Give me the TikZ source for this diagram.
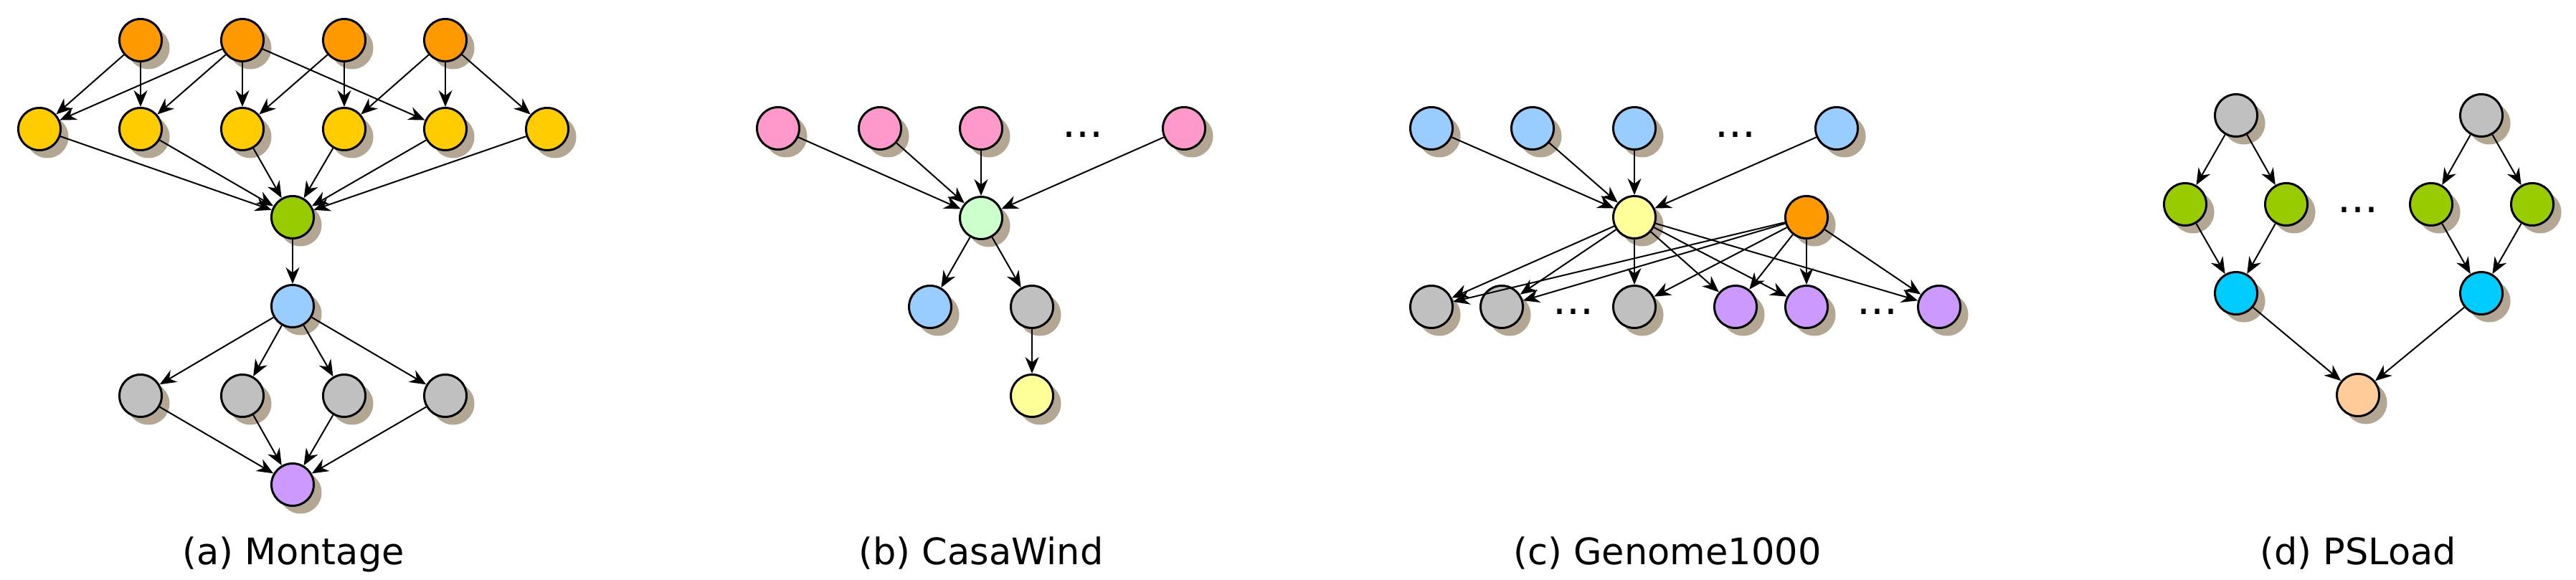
\documentclass[tikz,border=0pt]{standalone}
\usepackage{fontspec}
\setmainfont{DejaVu Sans}
\usepackage{tikz}
\usetikzlibrary{arrows.meta,shadows}
\definecolor{orange}{RGB}{255,153,0}
\definecolor{gold}{RGB}{255,204,0}
\definecolor{lime}{RGB}{153,204,0}
\definecolor{sky}{RGB}{153,204,255}
\definecolor{silver}{RGB}{192,192,192}
\definecolor{lilac}{RGB}{204,153,255}
\definecolor{pink}{RGB}{255,153,204}
\definecolor{mint}{RGB}{204,255,204}
\definecolor{lemon}{RGB}{255,255,153}
\definecolor{cyan}{RGB}{0,204,255}
\definecolor{peach}{RGB}{255,204,153}
\definecolor{shade}{RGB}{179,167,148}

\begin{document}
\begin{tikzpicture}[job/.style = {
                        circle, draw=black, line width=0.85pt,
                        minimum size=5.9mm, inner sep=0pt,
                        drop shadow={shadow xshift=1.1mm, shadow yshift=-1.1mm,
                                     fill=shade, opacity=1}
                      },
                      dep/.style = {
                        ->, line width=0.57pt
                      },
                      more/.style = {
                        inner sep=0pt,
                        font=\fontsize{17}{17}\selectfont
                      },
                      caption/.style = {
                        anchor=base,
                        font=\fontsize{14.5}{17}\selectfont
                      },
                      >={Stealth[length=2.3mm, width=1.9mm]}]
    \useasboundingbox (0,0) rectangle (35.92,-8.09);

    % (a) Montage
    \node(proj1)[job, fill=orange] at (1.96,-0.56) {};
    \node(proj2)[job, fill=orange] at (3.38,-0.56) {};
    \node(proj3)[job, fill=orange] at (4.80,-0.56) {};
    \node(proj4)[job, fill=orange] at (6.21,-0.56) {};
    \node(diff1)[job, fill=gold] at (0.55,-1.80) {};
    \node(diff2)[job, fill=gold] at (1.96,-1.80) {};
    \node(diff3)[job, fill=gold] at (3.38,-1.80) {};
    \node(diff4)[job, fill=gold] at (4.80,-1.80) {};
    \node(diff5)[job, fill=gold] at (6.21,-1.80) {};
    \node(diff6)[job, fill=gold] at (7.63,-1.80) {};
    \node(concat)[job, fill=lime] at (4.08,-3.03) {};
    \node(bgmodel)[job, fill=sky] at (4.08,-4.27) {};
    \node(bg1)[job, fill=silver] at (1.96,-5.52) {};
    \node(bg2)[job, fill=silver] at (3.38,-5.52) {};
    \node(bg3)[job, fill=silver] at (4.80,-5.52) {};
    \node(bg4)[job, fill=silver] at (6.21,-5.52) {};
    \node(add)[job, fill=lilac] at (4.08,-6.76) {};
    \node[caption] at (4.09,-7.87) {(a) Montage};

    \path[dep]
      (proj1) edge (diff1) edge (diff2)
      (proj2) edge (diff1) edge (diff2) edge (diff3) edge (diff5)
      (proj3) edge (diff3) edge (diff4)
      (proj4) edge (diff4) edge (diff5) edge (diff6)
      (diff1) edge (concat) (diff2) edge (concat) (diff3) edge (concat)
      (diff4) edge (concat) (diff5) edge (concat) (diff6) edge (concat)
      (concat) edge (bgmodel)
      (bgmodel) edge (bg1) edge (bg2) edge (bg3) edge (bg4)
      (bg1) edge (add) (bg2) edge (add) (bg3) edge (add) (bg4) edge (add);

    % (b) CasaWind
    \node(wind1)[job, fill=pink] at (10.85,-1.79) {};
    \node(wind2)[job, fill=pink] at (12.27,-1.79) {};
    \node(wind3)[job, fill=pink] at (13.68,-1.79) {};
    \node(windmore)[more] at (15.10,-1.875) {...};
    \node(wind4)[job, fill=pink] at (16.51,-1.79) {};
    \node(merge)[job, fill=mint] at (13.68,-3.04) {};
    \node(publish)[job, fill=sky] at (12.97,-4.28) {};
    \node(score)[job, fill=silver] at (14.39,-4.28) {};
    \node(alert)[job, fill=lemon] at (14.39,-5.52) {};
    \node[caption] at (13.68,-7.87) {(b) CasaWind};

    \path[dep]
      (wind1) edge (merge) (wind2) edge (merge)
      (wind3) edge (merge) (wind4) edge (merge)
      (merge) edge (publish) edge (score)
      (score) edge (alert);

    % (c) Genome1000
    \node(indiv1)[job, fill=sky] at (19.96,-1.79) {};
    \node(indiv2)[job, fill=sky] at (21.37,-1.79) {};
    \node(indiv3)[job, fill=sky] at (22.79,-1.79) {};
    \node(indivmore)[more] at (24.20,-1.875) {...};
    \node(indiv4)[job, fill=sky] at (25.61,-1.79) {};
    \node(chrom)[job, fill=lemon] at (22.79,-3.03) {};
    \node(sift)[job, fill=orange] at (25.19,-3.03) {};
    \node(mut1)[job, fill=silver] at (19.96,-4.28) {};
    \node(mut2)[job, fill=silver] at (20.94,-4.28) {};
    \node(mutmore)[more] at (21.94,-4.35) {...};
    \node(mut3)[job, fill=silver] at (22.79,-4.28) {};
    \node(freq1)[job, fill=lilac] at (24.20,-4.28) {};
    \node(freq2)[job, fill=lilac] at (25.19,-4.28) {};
    \node(freqmore)[more] at (26.18,-4.35) {...};
    \node(freq3)[job, fill=lilac] at (27.04,-4.28) {};
    \node[caption] at (23.25,-7.87) {(c) Genome1000};

    \path[dep]
      (indiv1) edge (chrom) (indiv2) edge (chrom)
      (indiv3) edge (chrom) (indiv4) edge (chrom)
      (chrom) edge (mut1) edge (mut2) edge (mut3)
              edge (freq1) edge (freq2) edge (freq3)
      (sift) edge (mut1) edge (mut2) edge (mut3)
             edge (freq1) edge (freq2) edge (freq3);

    % (d) PSLoad
    \node(read1)[job, fill=silver] at (31.18,-1.61) {};
    \node(read2)[job, fill=silver] at (34.60,-1.61) {};
    \node(parse1)[job, fill=lime] at (30.47,-2.85) {};
    \node(parse2)[job, fill=lime] at (31.88,-2.85) {};
    \node(parsemore)[more] at (32.88,-2.93) {...};
    \node(parse3)[job, fill=lime] at (33.90,-2.85) {};
    \node(parse4)[job, fill=lime] at (35.31,-2.85) {};
    \node(load1)[job, fill=cyan] at (31.18,-4.09) {};
    \node(load2)[job, fill=cyan] at (34.60,-4.09) {};
    \node(report)[job, fill=peach] at (32.88,-5.51) {};
    \node[caption] at (32.88,-7.87) {(d) PSLoad};

    \path[dep]
      (read1) edge (parse1) edge (parse2)
      (read2) edge (parse3) edge (parse4)
      (parse1) edge (load1) (parse2) edge (load1)
      (parse3) edge (load2) (parse4) edge (load2)
      (load1) edge (report) (load2) edge (report);
  \end{tikzpicture}
\end{document}
